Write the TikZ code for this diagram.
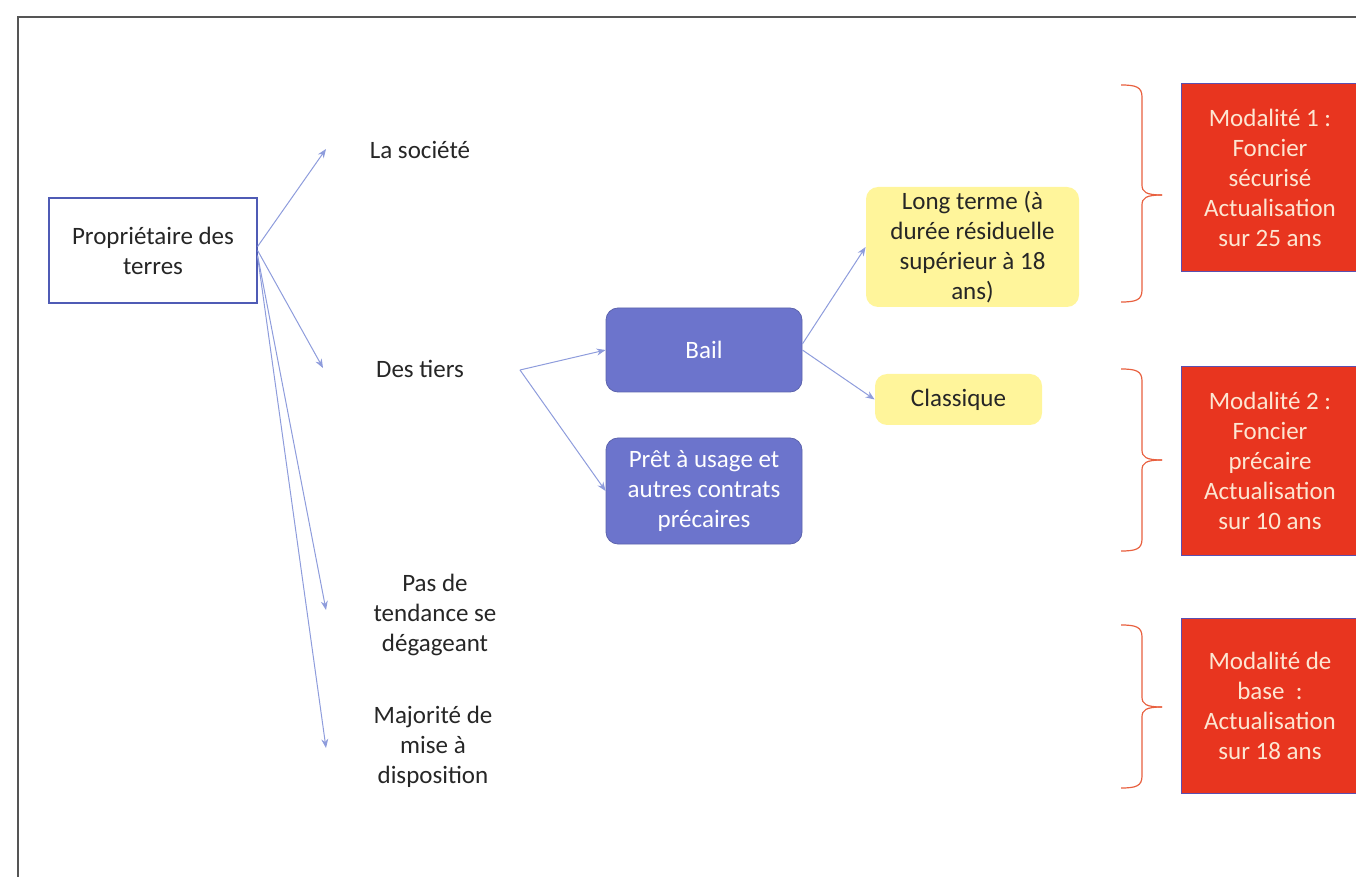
\documentclass[tikz,border=0pt]{standalone}
\usepackage{fontspec}
\setmainfont{Carlito}
\usetikzlibrary{arrows.meta}
\definecolor{bluebox}{HTML}{6C74CC}
\definecolor{yellowbox}{HTML}{FFF59B}
\definecolor{redbox}{HTML}{E8351F}
\definecolor{redtext}{HTML}{FDE6D2}
\definecolor{redborder}{HTML}{5B4FB0}
\definecolor{arrowblue}{HTML}{8E9CDC}
\definecolor{bracecol}{HTML}{E8603F}
\definecolor{framegray}{HTML}{555555}
\definecolor{boxborder}{HTML}{4F5BB5}
\definecolor{txt}{HTML}{262626}
\begin{document}
\begin{tikzpicture}[x=0.5pt,y=-0.5pt,
  every node/.style={font=\fontsize{12.5}{15}\selectfont, align=center, inner sep=0pt},
  propbox/.style={draw=boxborder, line width=0.6pt, fill=white, text=txt, minimum width=104pt, minimum height=52.5pt},
  bluebx/.style={fill=bluebox, draw=bluebox!85!black, line width=0.4pt, rounded corners=6pt, text=white, minimum width=98pt},
  yellowbx/.style={fill=yellowbox, rounded corners=6pt, text=txt},
  redbx/.style={fill=redbox, draw=redborder, line width=0.5pt, text=redtext, minimum width=89pt},
  lbl/.style={text=txt},
  conn/.style={draw=arrowblue, line width=0.5pt, -{Stealth[length=4.5pt,width=3.5pt]}},
  bracestyle/.style={draw=bracecol, line width=0.6pt}
]
\useasboundingbox (0,0) rectangle (1356,877);
\draw[framegray, line width=1pt] (18,877) -- (18,17) -- (1356,17);

% left column
\node[propbox] (prop) at (153,250.5) {Propriétaire des\\terres};
\node[lbl] (soc) at (420,150) {La société};
\node[lbl] (tiers) at (420,369) {Des tiers};
\node[lbl] (pas) at (435,615) {Pas de\\tendance se\\dégageant};
\node[lbl] (maj) at (433,747) {Majorité de\\mise à\\disposition};

% middle
\node[bluebx, minimum height=42pt] (bail) at (704,350) {Bail};
\node[bluebx, minimum height=53pt] (pret) at (704,491) {Prêt à usage et\\autres contrats\\précaires};
\node[yellowbx, minimum width=106.5pt, minimum height=60pt] (long) at (972.5,247) {Long terme (à\\durée résiduelle\\supérieur à 18\\ans)};
\node[yellowbx, minimum width=83.5pt, minimum height=25.5pt] (classique) at (958.5,399.5) {Classique};

% right
\node[redbx, minimum height=94pt] (m1) at (1270,178) {Modalité 1 :\\Foncier\\sécurisé\\Actualisation\\sur 25 ans};
\node[redbx, minimum height=94pt] (m2) at (1270,461) {Modalité 2 :\\Foncier\\précaire\\Actualisation\\sur 10 ans};
\node[redbx, minimum height=87.5pt] (m3) at (1270,706) {Modalité de\\base~ :\\Actualisation\\sur 18 ans};

% braces
\foreach \t/\m/\b in {85/195/302, 369/460/551, 625/707/788} {
  \draw[bracestyle] (1121,\t) .. controls (1136,\t) and (1142,{\t+2}) .. (1142,{\t+12})
     -- (1142,{\m-10}) .. controls (1142,{\m-3}) and (1146,\m) .. (1162,\m);
  \draw[bracestyle] (1121,\b) .. controls (1136,\b) and (1142,{\b-2}) .. (1142,{\b-12})
     -- (1142,{\m+10}) .. controls (1142,{\m+3}) and (1146,\m) .. (1162,\m);
}

% arrow ends
\coordinate (tS) at (326,149);
\coordinate (tT) at (323,368);
\coordinate (tP) at (326,610);
\coordinate (tM) at (326,748);
\coordinate (tE) at (520,370);

\draw[conn] ([yshift=2pt]prop.east) -- (tS);
\draw[conn] (prop.east) -- (tT);
\draw[conn] ([yshift=-2.5pt]prop.east) -- (tP);
\draw[conn] ([yshift=-3pt]prop.east) -- (tM);
\draw[conn] (tE) -- (bail.west);
\draw[conn] (tE) -- (pret.west);
\draw[conn] ([yshift=3pt]bail.east) -- (long.west);
\draw[conn] (bail.east) -- (classique.west);
\end{tikzpicture}
\end{document}
